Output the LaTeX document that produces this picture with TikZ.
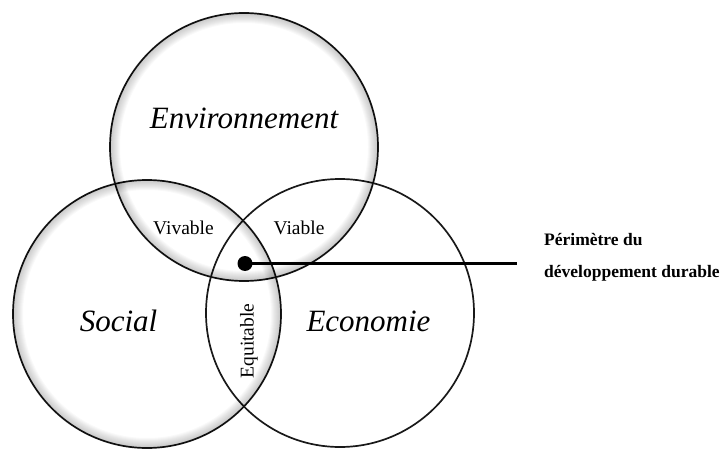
\documentclass[tikz,border=0pt]{standalone}
\usepackage{fontspec}
\setmainfont{Liberation Serif}
\usetikzlibrary{positioning}

\begin{document}
\begin{tikzpicture}[x=1pt,y=-1pt,
                    every node/.style={inner sep=0pt}]
  \tikzstyle{venn}=[circle,draw=black!90,line width=1.7pt,minimum size=268pt]
  \tikzstyle{glow}=[black,opacity=0.025]
  \tikzstyle{maintext}=[font=\fontsize{31}{37}\selectfont\itshape,anchor=base]
  \tikzstyle{pairtext}=[font=\fontsize{19.5}{23}\selectfont]
  \tikzstyle{notetext}=[font=\fontsize{17.5}{21}\selectfont\bfseries,anchor=base west]
  \useasboundingbox (0,0) rectangle (728,449);

  \node[venn] (social) at (147,314) {};
  \node[venn] (env) at (244,147) {};
  \node[venn] (eco) at (340,313) {};

  \foreach \c in {social,env}{
    \begin{scope}
      \clip (\c.center) circle (134pt);
      \foreach \w in {2,4,...,20}
        \draw[glow,line width=\w pt] (\c.center) circle (134pt);
    \end{scope}
  }

  \node[maintext] (envtext) at (244,129) {Environnement};
  \node[maintext] (soctext) at (118.5,331) {Social};
  \node[maintext] (ecotext) at (368.5,331) {Economie};
  \node[pairtext,anchor=base] (vivable) at (183.5,234) {Vivable};
  \node[pairtext,anchor=base] (viable) at (299,234) {Viable};
  \node[pairtext,rotate=90] (equitable) at (249,341) {Equitable};

  \node[circle,fill=black,minimum size=15pt] (perim) at (245,263.5) {};
  \coordinate (tail) at (517,263.5);
  \draw[line width=2.5pt] (perim.center) -- (tail);

  \node[notetext] (note1) at (544,245) {Périmètre du};
  \node[notetext] (note2) at (544,277) {développement durable};
\end{tikzpicture}
\end{document}
